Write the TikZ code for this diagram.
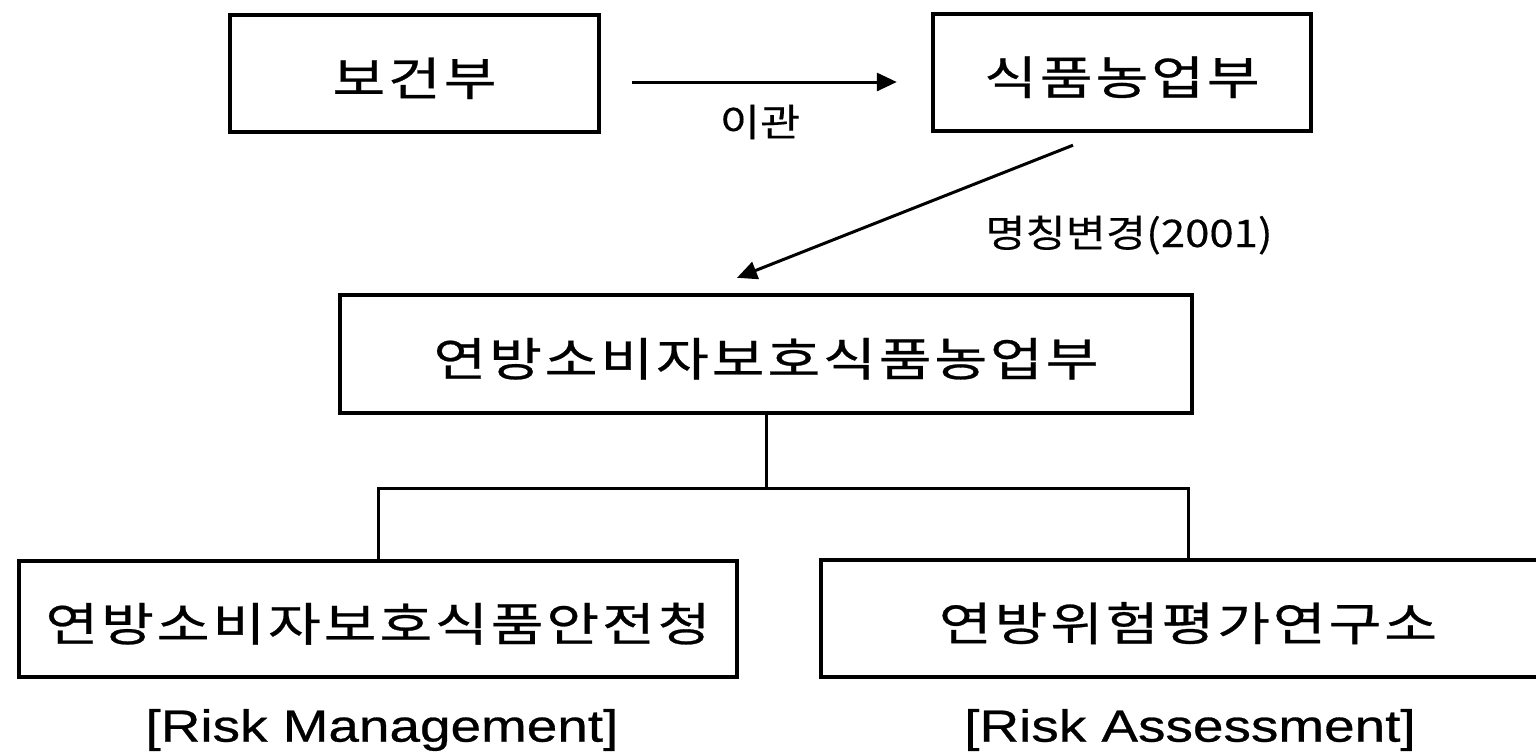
\documentclass[tikz,border=0pt]{standalone}
\usepackage{fontspec}
\usetikzlibrary{arrows.meta}
\newfontfamily\krfont[FakeStretch=1.25, LetterSpace=6, FakeBold=0.6]{Noto Sans CJK KR}
\newfontfamily\krsmall[FakeStretch=1.15, FakeBold=0.3]{Noto Sans CJK KR}
\newfontfamily\arialfont[FakeStretch=1.22, FakeBold=0.6]{Liberation Sans}

\begin{document}
\begin{tikzpicture} [x=0.5pt, y=-0.5pt,
  box/.style={draw, rectangle, line width=1.6pt, text height=24pt, text depth=2pt,
    font=\krfont\fontsize{23}{26}\selectfont},
  lbl/.style={font=\krsmall\fontsize{19}{22}\selectfont},
  role/.style={font=\arialfont\fontsize{22.5}{26}\selectfont},
  arr/.style={line width=1.5pt, -{Triangle[length=10pt,width=9pt]}}]
%\tikzstyle{every node}=[draw];
\useasboundingbox (0,0) rectangle (1536,752);
\clip (0,0) rectangle (1536,752);

\node[box, minimum width=184.5pt, minimum height=58.5pt] (health) at (414.5,73.5) {보건부};
\node[box, minimum width=189pt, minimum height=58.5pt] (food) at (1122,72.5) {식품농업부};
\node[box, minimum width=426pt, minimum height=59pt] (fed) at (766,354) {연방소비자보호식품농업부};
\node[box, minimum width=359pt, minimum height=58pt] (safety) at (378,619) {연방소비자보호식품안전청};
\node[box, minimum width=367pt, minimum height=58.5pt] (assess) at (1188,618.5) {연방위험평가연구소};

\node[lbl] (move) at (760,122) {이관};
\node[lbl] (rename) at (1129,235) {명칭변경(2001)};
\node[role] (mgmt) at (382,730) {[Risk Management]};
\node[role] (eval) at (1190,730) {[Risk Assessment]};

\draw[arr, shorten <=15.8pt, shorten >=17.3pt] ([yshift=-4.25pt]health.east) -- ([yshift=-4.75pt]food.west);
\draw[arr] ([xshift=-24.5pt, yshift=-6.3pt]food.south) -- ([xshift=-14.5pt, yshift=7.8pt]fed.north);
\draw[line width=1.5pt] (fed.south) -- ++(0,74) -| (safety.north) % split in two
  (fed.south) ++(0,74) -| (assess.north);
\end{tikzpicture}
\end{document}
